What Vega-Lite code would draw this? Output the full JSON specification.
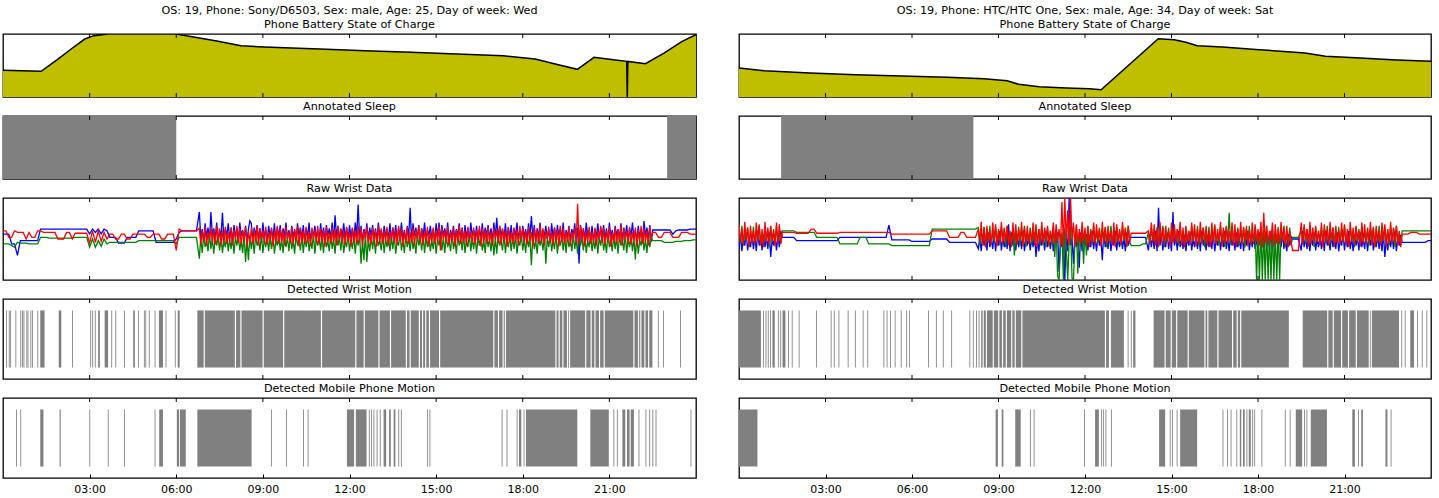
{
"$schema": "https://vega.github.io/schema/vega-lite/v6.json",
"padding": {"left": 2, "top": 3, "right": 1, "bottom": 0},
"background": "white",
"config": {
 "view": {"stroke": "#000", "strokeWidth": 1.3},
 "font": "DejaVu Sans",
 "title": {"font": "DejaVu Sans", "fontSize": 11.2, "fontWeight": "normal", "color": "#000", "offset": 3, "anchor": "middle"},
 "axis": {"domain": false, "grid": false, "tickSize": -4, "tickColor": "#000", "tickWidth": 1, "labelFont": "DejaVu Sans", "labelFontSize": 11, "labelColor": "#000", "labelPadding": 9, "labelFlush": false},
 "rule": {"color": "#000", "strokeWidth": 1}
},
"datasets": {
 "ticks": [{"h":3},{"h":6},{"h":9},{"h":12},{"h":15},{"h":18},{"h":21}],
 "bat_l": [{"h":0,"v":42.3},{"h":1.32,"v":40.7},{"h":1.88,"v":59.3},{"h":2.36,"v":76.2},{"h":2.83,"v":92},{"h":3.15,"v":97.4},{"h":3.63,"v":100},{"h":6.02,"v":100},{"h":6.1,"v":99},{"h":6.65,"v":95},{"h":7.45,"v":88.4},{"h":8.24,"v":81.5},{"h":9.04,"v":79.4},{"h":10.95,"v":76.2},{"h":12.54,"v":73.5},{"h":14.13,"v":70.9},{"h":15.72,"v":68.3},{"h":17.32,"v":65.6},{"h":18.43,"v":60.3},{"h":19.23,"v":51.3},{"h":19.89,"v":43.9},{"h":20.47,"v":63},{"h":21.14,"v":59.3},{"h":21.6,"v":56.6},{"h":21.62,"v":0},{"h":21.64,"v":56.4},{"h":22.25,"v":52.9},{"h":22.89,"v":69.8},{"h":23.52,"v":88.4},{"h":24,"v":99}],
 "bat_r": [{"h":0,"v":46},{"h":0.87,"v":41.8},{"h":2.46,"v":38.1},{"h":4.05,"v":35.4},{"h":5.64,"v":33.3},{"h":7.23,"v":31.2},{"h":8.5,"v":29.1},{"h":9.3,"v":25.9},{"h":9.7,"v":20.1},{"h":10.41,"v":16.4},{"h":11.36,"v":14.3},{"h":12.16,"v":13.2},{"h":12.56,"v":11.6},{"h":14.54,"v":92.6},{"h":15.1,"v":91},{"h":15.5,"v":86.8},{"h":15.89,"v":81.5},{"h":16.77,"v":79.4},{"h":18.04,"v":75.1},{"h":19.63,"v":69.8},{"h":20.34,"v":64.6},{"h":21.54,"v":61.9},{"h":22.81,"v":58.7},{"h":24,"v":56.6}],
 "sleep_l": [{"s":0,"e":6.0},{"s":23.0,"e":24}],
 "sleep_r": [{"s":1.46,"e":8.13}],
 "raw_l": [
{"h":0.0,"ax":56,"ay":44,"az":60},{"h":0.1,"ax":56,"ay":44,"az":60},{"h":0.2,"ax":56,"ay":44,"az":52},{"h":0.3,"ax":44,"ay":42,"az":52},{"h":0.4,"ax":44,"ay":40,"az":60},{"h":0.5,"ax":30,"ay":46,"az":58},{"h":0.6,"ax":48,"ay":45,"az":58},{"h":0.7,"ax":48,"ay":45,"az":58},{"h":0.8,"ax":48,"ay":45,"az":50},{"h":0.9,"ax":48,"ay":44,"az":58},
{"h":1.0,"ax":48,"ay":44,"az":52},{"h":1.1,"ax":48,"ay":44,"az":52},{"h":1.2,"ax":48,"ay":44,"az":60},{"h":1.3,"ax":62,"ay":52,"az":60},{"h":1.4,"ax":62,"ay":52,"az":58},{"h":1.5,"ax":62,"ay":52,"az":58},{"h":1.6,"ax":62,"ay":51,"az":58},{"h":1.7,"ax":62,"ay":51,"az":58},{"h":1.8,"ax":62,"ay":51,"az":58},{"h":1.9,"ax":62,"ay":51,"az":50},
{"h":2.0,"ax":62,"ay":51,"az":50},{"h":2.1,"ax":62,"ay":51,"az":50},{"h":2.2,"ax":62,"ay":51,"az":58},{"h":2.3,"ax":62,"ay":51,"az":58},{"h":2.4,"ax":62,"ay":51,"az":50},{"h":2.5,"ax":62,"ay":52,"az":57},{"h":2.6,"ax":62,"ay":52,"az":57},{"h":2.7,"ax":62,"ay":52,"az":57},{"h":2.8,"ax":62,"ay":52,"az":57},{"h":2.9,"ax":62,"ay":52,"az":57},
{"h":3.0,"ax":56,"ay":40,"az":45},{"h":3.1,"ax":62,"ay":50,"az":60},{"h":3.2,"ax":58,"ay":40,"az":46},{"h":3.3,"ax":62,"ay":48,"az":60},{"h":3.4,"ax":56,"ay":41,"az":47},{"h":3.5,"ax":62,"ay":50,"az":58},{"h":3.6,"ax":60,"ay":44,"az":50},{"h":3.7,"ax":52,"ay":46,"az":56},{"h":3.8,"ax":52,"ay":46,"az":56},{"h":3.9,"ax":52,"ay":46,"az":50},
{"h":4.0,"ax":45,"ay":46,"az":50},{"h":4.1,"ax":45,"ay":46,"az":56},{"h":4.2,"ax":45,"ay":46,"az":56},{"h":4.3,"ax":52,"ay":46,"az":50},{"h":4.4,"ax":52,"ay":46,"az":50},{"h":4.5,"ax":52,"ay":46,"az":56},{"h":4.6,"ax":52,"ay":46,"az":56},{"h":4.7,"ax":60,"ay":48,"az":56},{"h":4.8,"ax":60,"ay":48,"az":56},{"h":4.9,"ax":60,"ay":48,"az":56},
{"h":5.0,"ax":60,"ay":48,"az":52},{"h":5.1,"ax":60,"ay":48,"az":52},{"h":5.2,"ax":60,"ay":48,"az":56},{"h":5.3,"ax":46,"ay":48,"az":56},{"h":5.4,"ax":46,"ay":48,"az":56},{"h":5.5,"ax":46,"ay":48,"az":50},{"h":5.6,"ax":46,"ay":48,"az":50},{"h":5.7,"ax":46,"ay":48,"az":56},{"h":5.8,"ax":46,"ay":48,"az":56},{"h":5.9,"ax":46,"ay":48,"az":56},
{"h":6.0,"ax":50,"ay":44,"az":36},{"h":6.1,"ax":58,"ay":52,"az":62},{"h":6.2,"ax":60,"ay":52,"az":60},{"h":6.3,"ax":60,"ay":52,"az":60},{"h":6.4,"ax":60,"ay":52,"az":60},{"h":6.5,"ax":60,"ay":52,"az":60},{"h":6.6,"ax":60,"ay":52,"az":60},{"h":6.7,"ax":60,"ay":52,"az":60},
{"h":6.8,"ax":83,"ay":26,"az":63},{"h":6.85,"ax":50,"ay":52,"az":44},{"h":6.9,"ax":62,"ay":33,"az":60},{"h":6.95,"ax":47,"ay":55,"az":47},
{"h":7.0,"ax":69,"ay":40,"az":65},{"h":7.05,"ax":52,"ay":48,"az":42},{"h":7.1,"ax":64,"ay":35,"az":58},{"h":7.15,"ax":48,"ay":56,"az":50},{"h":7.2,"ax":83,"ay":38,"az":64},{"h":7.25,"ax":54,"ay":50,"az":45},{"h":7.3,"ax":63,"ay":32,"az":61},{"h":7.35,"ax":50,"ay":54,"az":43},{"h":7.4,"ax":70,"ay":42,"az":66},{"h":7.45,"ax":47,"ay":52,"az":48},
{"h":7.5,"ax":61,"ay":36,"az":63},{"h":7.55,"ax":52,"ay":55,"az":41},{"h":7.6,"ax":82,"ay":33,"az":60},{"h":7.65,"ax":48,"ay":48,"az":46},{"h":7.7,"ax":62,"ay":40,"az":65},{"h":7.75,"ax":54,"ay":56,"az":44},{"h":7.8,"ax":69,"ay":35,"az":58},{"h":7.85,"ax":50,"ay":50,"az":47},{"h":7.9,"ax":64,"ay":38,"az":64},{"h":7.95,"ax":47,"ay":54,"az":42},
{"h":8.0,"ax":67,"ay":32,"az":61},{"h":8.05,"ax":52,"ay":52,"az":50},{"h":8.1,"ax":63,"ay":42,"az":66},{"h":8.15,"ax":48,"ay":55,"az":45},{"h":8.2,"ax":70,"ay":36,"az":63},{"h":8.25,"ax":54,"ay":48,"az":43},{"h":8.3,"ax":61,"ay":33,"az":60},{"h":8.35,"ax":50,"ay":56,"az":48},{"h":8.4,"ax":66,"ay":22,"az":65},{"h":8.45,"ax":47,"ay":50,"az":41},
{"h":8.5,"ax":62,"ay":24,"az":58},{"h":8.55,"ax":72,"ay":54,"az":46},{"h":8.6,"ax":69,"ay":38,"az":64},{"h":8.65,"ax":48,"ay":52,"az":44},{"h":8.7,"ax":64,"ay":32,"az":61},{"h":8.75,"ax":54,"ay":55,"az":47},{"h":8.8,"ax":67,"ay":42,"az":66},{"h":8.85,"ax":50,"ay":48,"az":42},{"h":8.9,"ax":63,"ay":36,"az":63},{"h":8.95,"ax":47,"ay":56,"az":50},
{"h":9.0,"ax":70,"ay":33,"az":60},{"h":9.05,"ax":52,"ay":50,"az":45},{"h":9.1,"ax":61,"ay":40,"az":65},{"h":9.15,"ax":48,"ay":54,"az":43},{"h":9.2,"ax":66,"ay":35,"az":58},{"h":9.25,"ax":54,"ay":52,"az":48},{"h":9.3,"ax":62,"ay":38,"az":64},{"h":9.35,"ax":50,"ay":55,"az":41},{"h":9.4,"ax":69,"ay":32,"az":61},{"h":9.45,"ax":47,"ay":48,"az":46},
{"h":9.5,"ax":64,"ay":42,"az":66},{"h":9.55,"ax":52,"ay":56,"az":44},{"h":9.6,"ax":67,"ay":36,"az":63},{"h":9.65,"ax":48,"ay":50,"az":47},{"h":9.7,"ax":63,"ay":33,"az":60},{"h":9.75,"ax":54,"ay":54,"az":42},{"h":9.8,"ax":70,"ay":40,"az":65},{"h":9.85,"ax":50,"ay":52,"az":50},{"h":9.9,"ax":61,"ay":35,"az":58},{"h":9.95,"ax":47,"ay":55,"az":45},
{"h":10.0,"ax":66,"ay":38,"az":64},{"h":10.05,"ax":52,"ay":48,"az":43},{"h":10.1,"ax":62,"ay":32,"az":61},{"h":10.15,"ax":48,"ay":56,"az":48},{"h":10.2,"ax":69,"ay":42,"az":66},{"h":10.25,"ax":54,"ay":50,"az":41},{"h":10.3,"ax":64,"ay":36,"az":63},{"h":10.35,"ax":50,"ay":54,"az":46},{"h":10.4,"ax":67,"ay":33,"az":60},{"h":10.45,"ax":47,"ay":52,"az":44},
{"h":10.5,"ax":63,"ay":40,"az":65},{"h":10.55,"ax":52,"ay":55,"az":47},{"h":10.6,"ax":70,"ay":35,"az":58},{"h":10.65,"ax":48,"ay":48,"az":42},{"h":10.7,"ax":61,"ay":38,"az":64},{"h":10.75,"ax":54,"ay":56,"az":50},{"h":10.8,"ax":66,"ay":32,"az":61},{"h":10.85,"ax":50,"ay":50,"az":45},{"h":10.9,"ax":62,"ay":42,"az":66},{"h":10.95,"ax":47,"ay":54,"az":43},
{"h":11.0,"ax":69,"ay":36,"az":63},{"h":11.05,"ax":52,"ay":52,"az":48},{"h":11.1,"ax":64,"ay":33,"az":60},{"h":11.15,"ax":48,"ay":55,"az":41},{"h":11.2,"ax":67,"ay":40,"az":65},{"h":11.25,"ax":54,"ay":48,"az":46},{"h":11.3,"ax":63,"ay":35,"az":58},{"h":11.35,"ax":50,"ay":56,"az":44},{"h":11.4,"ax":70,"ay":38,"az":64},{"h":11.45,"ax":47,"ay":50,"az":47},
{"h":11.5,"ax":79,"ay":32,"az":61},{"h":11.55,"ax":52,"ay":54,"az":42},{"h":11.6,"ax":66,"ay":42,"az":66},{"h":11.65,"ax":48,"ay":52,"az":50},{"h":11.7,"ax":62,"ay":36,"az":63},{"h":11.75,"ax":54,"ay":55,"az":45},{"h":11.8,"ax":69,"ay":33,"az":60},{"h":11.85,"ax":50,"ay":48,"az":43},{"h":11.9,"ax":64,"ay":40,"az":65},{"h":11.95,"ax":47,"ay":56,"az":48},
{"h":12.0,"ax":67,"ay":35,"az":58},{"h":12.05,"ax":52,"ay":50,"az":41},{"h":12.1,"ax":63,"ay":38,"az":64},{"h":12.15,"ax":48,"ay":54,"az":46},{"h":12.2,"ax":70,"ay":32,"az":61},{"h":12.25,"ax":54,"ay":52,"az":44},{"h":12.3,"ax":92,"ay":42,"az":66},{"h":12.35,"ax":50,"ay":55,"az":47},{"h":12.4,"ax":66,"ay":20,"az":63},{"h":12.45,"ax":47,"ay":48,"az":42},
{"h":12.5,"ax":62,"ay":24,"az":60},{"h":12.55,"ax":52,"ay":56,"az":50},{"h":12.6,"ax":69,"ay":22,"az":65},{"h":12.65,"ax":48,"ay":50,"az":45},{"h":12.7,"ax":64,"ay":35,"az":58},{"h":12.75,"ax":54,"ay":54,"az":43},{"h":12.8,"ax":67,"ay":38,"az":64},{"h":12.85,"ax":50,"ay":52,"az":48},{"h":12.9,"ax":63,"ay":32,"az":61},{"h":12.95,"ax":47,"ay":55,"az":41},
{"h":13.0,"ax":70,"ay":42,"az":66},{"h":13.05,"ax":52,"ay":48,"az":46},{"h":13.1,"ax":61,"ay":36,"az":63},{"h":13.15,"ax":48,"ay":56,"az":44},{"h":13.2,"ax":66,"ay":33,"az":60},{"h":13.25,"ax":54,"ay":50,"az":47},{"h":13.3,"ax":62,"ay":40,"az":65},{"h":13.35,"ax":50,"ay":54,"az":42},{"h":13.4,"ax":69,"ay":35,"az":58},{"h":13.45,"ax":47,"ay":52,"az":50},
{"h":13.5,"ax":64,"ay":38,"az":64},{"h":13.55,"ax":52,"ay":55,"az":45},{"h":13.6,"ax":67,"ay":32,"az":61},{"h":13.65,"ax":48,"ay":48,"az":43},{"h":13.7,"ax":63,"ay":42,"az":66},{"h":13.75,"ax":54,"ay":56,"az":48},{"h":13.8,"ax":70,"ay":36,"az":63},{"h":13.85,"ax":50,"ay":50,"az":41},{"h":13.9,"ax":61,"ay":33,"az":60},{"h":13.95,"ax":47,"ay":54,"az":46},
{"h":14.0,"ax":66,"ay":40,"az":65},{"h":14.05,"ax":52,"ay":52,"az":44},{"h":14.1,"ax":88,"ay":35,"az":58},{"h":14.15,"ax":48,"ay":55,"az":47},{"h":14.2,"ax":69,"ay":38,"az":64},{"h":14.25,"ax":54,"ay":48,"az":42},{"h":14.3,"ax":64,"ay":32,"az":61},{"h":14.35,"ax":50,"ay":56,"az":50},{"h":14.4,"ax":67,"ay":42,"az":66},{"h":14.45,"ax":47,"ay":50,"az":45},
{"h":14.5,"ax":63,"ay":36,"az":63},{"h":14.55,"ax":52,"ay":54,"az":43},{"h":14.6,"ax":70,"ay":33,"az":60},{"h":14.65,"ax":48,"ay":52,"az":48},{"h":14.7,"ax":61,"ay":40,"az":65},{"h":14.75,"ax":54,"ay":55,"az":41},{"h":14.8,"ax":66,"ay":35,"az":58},{"h":14.85,"ax":50,"ay":48,"az":46},{"h":14.9,"ax":62,"ay":38,"az":64},{"h":14.95,"ax":47,"ay":56,"az":44},
{"h":15.0,"ax":69,"ay":32,"az":61},{"h":15.05,"ax":52,"ay":50,"az":47},{"h":15.1,"ax":70,"ay":42,"az":66},{"h":15.15,"ax":48,"ay":54,"az":36},{"h":15.2,"ax":67,"ay":36,"az":63},{"h":15.25,"ax":54,"ay":52,"az":50},{"h":15.3,"ax":63,"ay":33,"az":60},{"h":15.35,"ax":50,"ay":55,"az":45},{"h":15.4,"ax":70,"ay":40,"az":65},{"h":15.45,"ax":47,"ay":48,"az":43},
{"h":15.5,"ax":61,"ay":35,"az":58},{"h":15.55,"ax":52,"ay":56,"az":48},{"h":15.6,"ax":66,"ay":38,"az":64},{"h":15.65,"ax":48,"ay":50,"az":41},{"h":15.7,"ax":62,"ay":32,"az":61},{"h":15.75,"ax":54,"ay":54,"az":46},{"h":15.8,"ax":69,"ay":42,"az":66},{"h":15.85,"ax":50,"ay":52,"az":44},{"h":15.9,"ax":64,"ay":36,"az":63},{"h":15.95,"ax":47,"ay":55,"az":47},
{"h":16.0,"ax":67,"ay":33,"az":60},{"h":16.05,"ax":52,"ay":48,"az":42},{"h":16.1,"ax":63,"ay":40,"az":65},{"h":16.15,"ax":48,"ay":56,"az":50},{"h":16.2,"ax":70,"ay":35,"az":58},{"h":16.25,"ax":54,"ay":50,"az":45},{"h":16.3,"ax":61,"ay":38,"az":64},{"h":16.35,"ax":50,"ay":54,"az":43},{"h":16.4,"ax":66,"ay":32,"az":61},{"h":16.45,"ax":47,"ay":52,"az":48},
{"h":16.5,"ax":62,"ay":42,"az":66},{"h":16.55,"ax":52,"ay":55,"az":41},{"h":16.6,"ax":69,"ay":36,"az":63},{"h":16.65,"ax":48,"ay":48,"az":46},{"h":16.7,"ax":64,"ay":33,"az":60},{"h":16.75,"ax":54,"ay":56,"az":44},{"h":16.8,"ax":67,"ay":40,"az":65},{"h":16.85,"ax":50,"ay":50,"az":47},{"h":16.9,"ax":63,"ay":35,"az":58},{"h":16.95,"ax":47,"ay":54,"az":42},
{"h":17.0,"ax":70,"ay":30,"az":64},{"h":17.05,"ax":52,"ay":52,"az":50},{"h":17.1,"ax":76,"ay":32,"az":61},{"h":17.15,"ax":48,"ay":55,"az":45},{"h":17.2,"ax":66,"ay":42,"az":66},{"h":17.25,"ax":54,"ay":48,"az":43},{"h":17.3,"ax":62,"ay":36,"az":63},{"h":17.35,"ax":50,"ay":56,"az":48},{"h":17.4,"ax":69,"ay":33,"az":60},{"h":17.45,"ax":47,"ay":50,"az":41},
{"h":17.5,"ax":64,"ay":40,"az":65},{"h":17.55,"ax":52,"ay":54,"az":46},{"h":17.6,"ax":67,"ay":35,"az":58},{"h":17.65,"ax":48,"ay":52,"az":44},{"h":17.7,"ax":63,"ay":38,"az":64},{"h":17.75,"ax":54,"ay":55,"az":47},{"h":17.8,"ax":70,"ay":32,"az":61},{"h":17.85,"ax":50,"ay":48,"az":42},{"h":17.9,"ax":61,"ay":42,"az":66},{"h":17.95,"ax":47,"ay":56,"az":50},
{"h":18.0,"ax":66,"ay":36,"az":63},{"h":18.05,"ax":52,"ay":50,"az":45},{"h":18.1,"ax":62,"ay":33,"az":60},{"h":18.15,"ax":48,"ay":54,"az":43},{"h":18.2,"ax":69,"ay":40,"az":65},{"h":18.25,"ax":54,"ay":52,"az":48},{"h":18.3,"ax":78,"ay":18,"az":58},{"h":18.35,"ax":50,"ay":55,"az":41},{"h":18.4,"ax":67,"ay":38,"az":64},{"h":18.45,"ax":47,"ay":48,"az":46},
{"h":18.5,"ax":63,"ay":32,"az":61},{"h":18.55,"ax":52,"ay":56,"az":44},{"h":18.6,"ax":70,"ay":42,"az":66},{"h":18.65,"ax":48,"ay":50,"az":47},{"h":18.7,"ax":61,"ay":36,"az":63},{"h":18.75,"ax":54,"ay":54,"az":42},{"h":18.8,"ax":66,"ay":20,"az":60},{"h":18.85,"ax":50,"ay":52,"az":50},{"h":18.9,"ax":62,"ay":40,"az":65},{"h":18.95,"ax":47,"ay":55,"az":45},
{"h":19.0,"ax":69,"ay":35,"az":58},{"h":19.05,"ax":52,"ay":48,"az":43},{"h":19.1,"ax":64,"ay":38,"az":64},{"h":19.15,"ax":48,"ay":56,"az":48},{"h":19.2,"ax":67,"ay":32,"az":61},{"h":19.25,"ax":54,"ay":50,"az":41},{"h":19.3,"ax":63,"ay":42,"az":66},{"h":19.35,"ax":50,"ay":54,"az":46},{"h":19.4,"ax":70,"ay":36,"az":63},{"h":19.45,"ax":47,"ay":52,"az":44},
{"h":19.5,"ax":61,"ay":33,"az":60},{"h":19.55,"ax":52,"ay":55,"az":47},{"h":19.6,"ax":66,"ay":40,"az":65},{"h":19.65,"ax":48,"ay":48,"az":42},{"h":19.7,"ax":62,"ay":35,"az":58},{"h":19.75,"ax":54,"ay":56,"az":50},{"h":19.8,"ax":69,"ay":38,"az":64},{"h":19.85,"ax":50,"ay":50,"az":45},{"h":19.9,"ax":64,"ay":32,"az":93},{"h":19.95,"ax":20,"ay":54,"az":43},
{"h":20.0,"ax":67,"ay":42,"az":66},{"h":20.05,"ax":52,"ay":52,"az":48},{"h":20.1,"ax":63,"ay":36,"az":63},{"h":20.15,"ax":48,"ay":55,"az":41},{"h":20.2,"ax":70,"ay":33,"az":60},{"h":20.25,"ax":54,"ay":48,"az":46},{"h":20.3,"ax":61,"ay":40,"az":65},{"h":20.35,"ax":50,"ay":56,"az":44},{"h":20.4,"ax":66,"ay":35,"az":58},{"h":20.45,"ax":47,"ay":50,"az":47},
{"h":20.5,"ax":62,"ay":38,"az":64},{"h":20.55,"ax":52,"ay":54,"az":42},{"h":20.6,"ax":69,"ay":32,"az":61},{"h":20.65,"ax":48,"ay":52,"az":50},{"h":20.7,"ax":64,"ay":42,"az":66},{"h":20.75,"ax":54,"ay":55,"az":45},{"h":20.8,"ax":67,"ay":36,"az":63},{"h":20.85,"ax":50,"ay":48,"az":43},{"h":20.9,"ax":63,"ay":33,"az":60},{"h":20.95,"ax":47,"ay":56,"az":48},
{"h":21.0,"ax":70,"ay":40,"az":65},{"h":21.05,"ax":52,"ay":50,"az":41},{"h":21.1,"ax":61,"ay":35,"az":58},{"h":21.15,"ax":48,"ay":54,"az":46},{"h":21.2,"ax":66,"ay":38,"az":64},{"h":21.25,"ax":54,"ay":52,"az":44},{"h":21.3,"ax":62,"ay":32,"az":61},{"h":21.35,"ax":50,"ay":55,"az":47},{"h":21.4,"ax":69,"ay":42,"az":66},{"h":21.45,"ax":47,"ay":48,"az":42},
{"h":21.5,"ax":64,"ay":36,"az":63},{"h":21.55,"ax":52,"ay":56,"az":50},{"h":21.6,"ax":67,"ay":33,"az":60},{"h":21.65,"ax":48,"ay":50,"az":45},{"h":21.7,"ax":63,"ay":40,"az":65},{"h":21.75,"ax":54,"ay":54,"az":43},{"h":21.8,"ax":70,"ay":35,"az":58},{"h":21.85,"ax":50,"ay":52,"az":48},{"h":21.9,"ax":61,"ay":25,"az":64},{"h":21.95,"ax":47,"ay":55,"az":41},
{"h":22.0,"ax":66,"ay":32,"az":61},{"h":22.05,"ax":52,"ay":48,"az":46},{"h":22.1,"ax":62,"ay":42,"az":66},{"h":22.15,"ax":48,"ay":56,"az":44},{"h":22.2,"ax":72,"ay":36,"az":63},{"h":22.25,"ax":54,"ay":50,"az":47},{"h":22.3,"ax":64,"ay":33,"az":60},{"h":22.35,"ax":50,"ay":54,"az":42},{"h":22.4,"ax":67,"ay":40,"az":65},{"h":22.45,"ax":47,"ay":52,"az":50},
{"h":22.5,"ax":61,"ay":48,"az":58},{"h":22.6,"ax":61,"ay":48,"az":58},{"h":22.7,"ax":61,"ay":48,"az":52},{"h":22.8,"ax":61,"ay":48,"az":52},{"h":22.9,"ax":61,"ay":46,"az":58},
{"h":23.0,"ax":61,"ay":46,"az":58},{"h":23.1,"ax":61,"ay":46,"az":58},{"h":23.2,"ax":56,"ay":46,"az":52},{"h":23.3,"ax":60,"ay":47,"az":52},{"h":23.4,"ax":61,"ay":47,"az":52},{"h":23.5,"ax":61,"ay":47,"az":58},{"h":23.6,"ax":61,"ay":48,"az":58},{"h":23.7,"ax":61,"ay":48,"az":58},{"h":23.8,"ax":62,"ay":48,"az":56},{"h":23.9,"ax":62,"ay":49,"az":56},
{"h":24.0,"ax":62,"ay":49,"az":56}
 ],
 "raw_r": [
{"h":0.0,"ax":38,"ay":62,"az":68},{"h":0.05,"ax":55,"ay":45,"az":46},{"h":0.1,"ax":35,"ay":66,"az":62},{"h":0.15,"ax":52,"ay":42,"az":43},{"h":0.2,"ax":42,"ay":58,"az":71},{"h":0.25,"ax":58,"ay":48,"az":48},{"h":0.3,"ax":36,"ay":64,"az":64},{"h":0.35,"ax":50,"ay":40,"az":41},{"h":0.4,"ax":40,"ay":60,"az":66},{"h":0.45,"ax":56,"ay":46,"az":45},
{"h":0.5,"ax":38,"ay":65,"az":60},{"h":0.55,"ax":53,"ay":43,"az":44},{"h":0.6,"ax":35,"ay":62,"az":70},{"h":0.65,"ax":60,"ay":47,"az":47},{"h":0.7,"ax":42,"ay":66,"az":68},{"h":0.75,"ax":51,"ay":45,"az":42},{"h":0.8,"ax":36,"ay":58,"az":62},{"h":0.85,"ax":55,"ay":42,"az":40},{"h":0.9,"ax":40,"ay":64,"az":71},{"h":0.95,"ax":52,"ay":48,"az":46},
{"h":1.0,"ax":38,"ay":60,"az":64},{"h":1.05,"ax":58,"ay":40,"az":43},{"h":1.1,"ax":28,"ay":65,"az":66},{"h":1.15,"ax":50,"ay":46,"az":48},{"h":1.2,"ax":42,"ay":62,"az":60},{"h":1.25,"ax":56,"ay":43,"az":41},{"h":1.3,"ax":36,"ay":66,"az":70},{"h":1.35,"ax":53,"ay":47,"az":45},{"h":1.4,"ax":40,"ay":58,"az":68},{"h":1.45,"ax":60,"ay":45,"az":44},
{"h":1.5,"ax":52,"ay":60,"az":58},{"h":1.6,"ax":52,"ay":60,"az":58},{"h":1.7,"ax":52,"ay":60,"az":58},{"h":1.8,"ax":52,"ay":60,"az":58},{"h":1.9,"ax":52,"ay":60,"az":58},
{"h":2.0,"ax":48,"ay":58,"az":57},{"h":2.1,"ax":48,"ay":58,"az":57},{"h":2.2,"ax":48,"ay":58,"az":57},{"h":2.3,"ax":48,"ay":58,"az":57},{"h":2.4,"ax":48,"ay":58,"az":57},{"h":2.5,"ax":48,"ay":58,"az":62},{"h":2.6,"ax":48,"ay":58,"az":62},{"h":2.7,"ax":48,"ay":52,"az":57},{"h":2.8,"ax":48,"ay":52,"az":57},{"h":2.9,"ax":48,"ay":52,"az":57},
{"h":3.0,"ax":48,"ay":52,"az":57},{"h":3.1,"ax":48,"ay":52,"az":57},{"h":3.2,"ax":48,"ay":52,"az":57},{"h":3.3,"ax":48,"ay":52,"az":57},{"h":3.4,"ax":48,"ay":52,"az":57},{"h":3.5,"ax":52,"ay":44,"az":58},{"h":3.6,"ax":52,"ay":44,"az":58},{"h":3.7,"ax":52,"ay":44,"az":58},{"h":3.8,"ax":52,"ay":44,"az":58},{"h":3.9,"ax":52,"ay":44,"az":58},
{"h":4.0,"ax":52,"ay":44,"az":58},{"h":4.1,"ax":52,"ay":44,"az":58},{"h":4.2,"ax":52,"ay":52,"az":58},{"h":4.3,"ax":52,"ay":52,"az":58},{"h":4.4,"ax":52,"ay":52,"az":58},{"h":4.5,"ax":52,"ay":44,"az":58},{"h":4.6,"ax":52,"ay":44,"az":58},{"h":4.7,"ax":52,"ay":44,"az":58},{"h":4.8,"ax":52,"ay":44,"az":58},{"h":4.9,"ax":52,"ay":44,"az":58},
{"h":5.0,"ax":52,"ay":44,"az":58},{"h":5.1,"ax":52,"ay":44,"az":58},{"h":5.2,"ax":67,"ay":44,"az":58},{"h":5.3,"ax":49,"ay":42,"az":56},{"h":5.4,"ax":49,"ay":42,"az":56},{"h":5.5,"ax":49,"ay":42,"az":56},{"h":5.6,"ax":49,"ay":42,"az":56},{"h":5.7,"ax":49,"ay":42,"az":56},{"h":5.8,"ax":49,"ay":42,"az":56},{"h":5.9,"ax":49,"ay":42,"az":56},
{"h":6.0,"ax":47,"ay":42,"az":56},{"h":6.1,"ax":47,"ay":42,"az":56},{"h":6.2,"ax":47,"ay":42,"az":56},{"h":6.3,"ax":47,"ay":42,"az":56},{"h":6.4,"ax":47,"ay":42,"az":56},{"h":6.5,"ax":47,"ay":42,"az":56},{"h":6.6,"ax":47,"ay":42,"az":56},{"h":6.7,"ax":50,"ay":62,"az":60},{"h":6.8,"ax":50,"ay":62,"az":60},{"h":6.9,"ax":50,"ay":62,"az":60},
{"h":7.0,"ax":50,"ay":62,"az":60},{"h":7.1,"ax":50,"ay":62,"az":60},{"h":7.2,"ax":50,"ay":62,"az":60},{"h":7.3,"ax":46,"ay":62,"az":52},{"h":7.4,"ax":46,"ay":62,"az":52},{"h":7.5,"ax":46,"ay":62,"az":52},{"h":7.6,"ax":46,"ay":62,"az":52},{"h":7.7,"ax":46,"ay":62,"az":58},{"h":7.8,"ax":46,"ay":62,"az":58},{"h":7.9,"ax":46,"ay":62,"az":52},
{"h":8.0,"ax":46,"ay":62,"az":52},{"h":8.1,"ax":46,"ay":62,"az":52},{"h":8.2,"ax":46,"ay":62,"az":52},
{"h":8.3,"ax":38,"ay":64,"az":62},{"h":8.35,"ax":51,"ay":42,"az":47},{"h":8.4,"ax":35,"ay":60,"az":71},{"h":8.45,"ax":55,"ay":48,"az":42},{"h":8.5,"ax":42,"ay":65,"az":64},{"h":8.55,"ax":52,"ay":40,"az":40},{"h":8.6,"ax":36,"ay":62,"az":66},{"h":8.65,"ax":58,"ay":46,"az":46},{"h":8.7,"ax":40,"ay":66,"az":60},{"h":8.75,"ax":50,"ay":43,"az":43},
{"h":8.8,"ax":38,"ay":58,"az":70},{"h":8.85,"ax":56,"ay":47,"az":48},{"h":8.9,"ax":35,"ay":64,"az":68},{"h":8.95,"ax":53,"ay":45,"az":41},{"h":9.0,"ax":42,"ay":60,"az":62},{"h":9.05,"ax":60,"ay":42,"az":45},{"h":9.1,"ax":36,"ay":65,"az":71},{"h":9.15,"ax":51,"ay":48,"az":44},{"h":9.2,"ax":40,"ay":62,"az":64},{"h":9.25,"ax":55,"ay":40,"az":47},
{"h":9.3,"ax":38,"ay":66,"az":66},{"h":9.35,"ax":68,"ay":46,"az":42},{"h":9.4,"ax":35,"ay":58,"az":60},{"h":9.45,"ax":58,"ay":43,"az":40},{"h":9.5,"ax":42,"ay":64,"az":70},{"h":9.55,"ax":50,"ay":30,"az":46},{"h":9.6,"ax":36,"ay":60,"az":68},{"h":9.65,"ax":56,"ay":45,"az":43},{"h":9.7,"ax":40,"ay":65,"az":62},{"h":9.75,"ax":53,"ay":42,"az":48},
{"h":9.8,"ax":38,"ay":62,"az":71},{"h":9.85,"ax":60,"ay":48,"az":41},{"h":9.9,"ax":35,"ay":66,"az":64},{"h":9.95,"ax":51,"ay":40,"az":45},{"h":10.0,"ax":42,"ay":58,"az":66},{"h":10.05,"ax":55,"ay":46,"az":44},{"h":10.1,"ax":36,"ay":64,"az":60},{"h":10.15,"ax":52,"ay":43,"az":47},{"h":10.2,"ax":40,"ay":60,"az":70},{"h":10.25,"ax":58,"ay":47,"az":42},
{"h":10.3,"ax":28,"ay":65,"az":68},{"h":10.35,"ax":50,"ay":45,"az":40},{"h":10.4,"ax":35,"ay":62,"az":62},{"h":10.45,"ax":56,"ay":42,"az":46},{"h":10.5,"ax":42,"ay":66,"az":71},{"h":10.55,"ax":53,"ay":48,"az":43},{"h":10.6,"ax":36,"ay":58,"az":64},{"h":10.65,"ax":60,"ay":40,"az":48},{"h":10.7,"ax":40,"ay":64,"az":66},{"h":10.75,"ax":51,"ay":46,"az":41},
{"h":10.8,"ax":38,"ay":60,"az":60},{"h":10.85,"ax":55,"ay":43,"az":45},{"h":10.9,"ax":35,"ay":65,"az":70},{"h":10.95,"ax":52,"ay":28,"az":44},{"h":11.0,"ax":42,"ay":62,"az":68},{"h":11.05,"ax":58,"ay":5,"az":47},{"h":11.1,"ax":10,"ay":0,"az":62},{"h":11.15,"ax":50,"ay":42,"az":42},{"h":11.2,"ax":40,"ay":58,"az":95},{"h":11.25,"ax":56,"ay":0,"az":40},
{"h":11.3,"ax":0,"ay":64,"az":100},{"h":11.35,"ax":53,"ay":40,"az":46},{"h":11.4,"ax":35,"ay":0,"az":85},{"h":11.45,"ax":100,"ay":46,"az":43},{"h":11.5,"ax":42,"ay":65,"az":100},{"h":11.55,"ax":51,"ay":2,"az":48},{"h":11.6,"ax":20,"ay":0,"az":70},{"h":11.65,"ax":55,"ay":47,"az":41},{"h":11.7,"ax":40,"ay":66,"az":68},{"h":11.75,"ax":52,"ay":8,"az":45},
{"h":11.8,"ax":15,"ay":58,"az":62},{"h":11.85,"ax":58,"ay":42,"az":44},{"h":11.9,"ax":35,"ay":64,"az":71},{"h":11.95,"ax":50,"ay":20,"az":47},{"h":12.0,"ax":42,"ay":60,"az":64},{"h":12.05,"ax":56,"ay":30,"az":42},{"h":12.1,"ax":36,"ay":65,"az":66},{"h":12.15,"ax":53,"ay":46,"az":40},{"h":12.2,"ax":40,"ay":62,"az":60},{"h":12.25,"ax":60,"ay":43,"az":46},
{"h":12.3,"ax":38,"ay":66,"az":70},{"h":12.35,"ax":51,"ay":47,"az":43},{"h":12.4,"ax":35,"ay":58,"az":68},{"h":12.45,"ax":55,"ay":45,"az":48},{"h":12.5,"ax":42,"ay":64,"az":62},{"h":12.55,"ax":52,"ay":42,"az":41},{"h":12.6,"ax":24,"ay":60,"az":71},{"h":12.65,"ax":58,"ay":48,"az":45},{"h":12.7,"ax":40,"ay":65,"az":64},{"h":12.75,"ax":50,"ay":40,"az":44},
{"h":12.8,"ax":38,"ay":62,"az":66},{"h":12.85,"ax":56,"ay":46,"az":47},{"h":12.9,"ax":35,"ay":66,"az":60},{"h":12.95,"ax":53,"ay":43,"az":42},{"h":13.0,"ax":42,"ay":58,"az":70},{"h":13.05,"ax":60,"ay":47,"az":40},{"h":13.1,"ax":36,"ay":64,"az":68},{"h":13.15,"ax":51,"ay":45,"az":46},{"h":13.2,"ax":40,"ay":60,"az":62},{"h":13.25,"ax":55,"ay":42,"az":43},
{"h":13.3,"ax":38,"ay":65,"az":71},{"h":13.35,"ax":52,"ay":48,"az":48},{"h":13.4,"ax":35,"ay":62,"az":64},{"h":13.45,"ax":58,"ay":40,"az":41},{"h":13.5,"ax":42,"ay":66,"az":66},{"h":13.55,"ax":50,"ay":46,"az":45},
{"h":13.6,"ax":52,"ay":42,"az":57},{"h":13.7,"ax":52,"ay":42,"az":57},{"h":13.8,"ax":52,"ay":42,"az":57},{"h":13.9,"ax":52,"ay":42,"az":57},{"h":14.0,"ax":52,"ay":44,"az":57},{"h":14.1,"ax":52,"ay":44,"az":57},
{"h":14.2,"ax":36,"ay":58,"az":60},{"h":14.25,"ax":56,"ay":43,"az":44},{"h":14.3,"ax":40,"ay":64,"az":70},{"h":14.35,"ax":53,"ay":47,"az":47},{"h":14.4,"ax":38,"ay":60,"az":68},{"h":14.45,"ax":60,"ay":45,"az":42},{"h":14.5,"ax":35,"ay":65,"az":62},{"h":14.55,"ax":88,"ay":42,"az":40},{"h":14.6,"ax":42,"ay":62,"az":71},{"h":14.65,"ax":55,"ay":48,"az":46},
{"h":14.7,"ax":36,"ay":66,"az":64},{"h":14.75,"ax":52,"ay":40,"az":43},{"h":14.8,"ax":40,"ay":58,"az":66},{"h":14.85,"ax":58,"ay":46,"az":48},{"h":14.9,"ax":38,"ay":64,"az":60},{"h":14.95,"ax":50,"ay":43,"az":41},{"h":15.0,"ax":35,"ay":60,"az":70},{"h":15.05,"ax":83,"ay":47,"az":45},{"h":15.1,"ax":42,"ay":65,"az":68},{"h":15.15,"ax":53,"ay":45,"az":44},
{"h":15.2,"ax":36,"ay":62,"az":62},{"h":15.25,"ax":60,"ay":42,"az":47},{"h":15.3,"ax":40,"ay":66,"az":71},{"h":15.35,"ax":51,"ay":48,"az":42},{"h":15.4,"ax":38,"ay":58,"az":64},{"h":15.45,"ax":55,"ay":40,"az":40},{"h":15.5,"ax":35,"ay":64,"az":66},{"h":15.55,"ax":52,"ay":46,"az":46},{"h":15.6,"ax":42,"ay":60,"az":60},{"h":15.65,"ax":58,"ay":43,"az":43},
{"h":15.7,"ax":36,"ay":65,"az":70},{"h":15.75,"ax":50,"ay":47,"az":48},{"h":15.8,"ax":40,"ay":62,"az":68},{"h":15.85,"ax":56,"ay":45,"az":41},{"h":15.9,"ax":38,"ay":66,"az":62},{"h":15.95,"ax":53,"ay":42,"az":45},{"h":16.0,"ax":35,"ay":58,"az":71},{"h":16.05,"ax":60,"ay":48,"az":44},{"h":16.1,"ax":42,"ay":64,"az":64},{"h":16.15,"ax":51,"ay":40,"az":47},
{"h":16.2,"ax":36,"ay":60,"az":66},{"h":16.25,"ax":55,"ay":46,"az":42},{"h":16.3,"ax":40,"ay":65,"az":60},{"h":16.35,"ax":52,"ay":43,"az":40},{"h":16.4,"ax":38,"ay":62,"az":70},{"h":16.45,"ax":58,"ay":47,"az":46},{"h":16.5,"ax":35,"ay":66,"az":68},{"h":16.55,"ax":50,"ay":45,"az":43},{"h":16.6,"ax":42,"ay":58,"az":62},{"h":16.65,"ax":56,"ay":42,"az":48},
{"h":16.7,"ax":36,"ay":64,"az":71},{"h":16.75,"ax":53,"ay":48,"az":41},{"h":16.8,"ax":40,"ay":60,"az":64},{"h":16.85,"ax":60,"ay":40,"az":45},{"h":16.9,"ax":38,"ay":65,"az":66},{"h":16.95,"ax":51,"ay":46,"az":44},{"h":17.0,"ax":35,"ay":82,"az":60},{"h":17.05,"ax":55,"ay":43,"az":47},{"h":17.1,"ax":42,"ay":66,"az":70},{"h":17.15,"ax":52,"ay":47,"az":42},
{"h":17.2,"ax":36,"ay":58,"az":68},{"h":17.25,"ax":58,"ay":45,"az":40},{"h":17.3,"ax":40,"ay":64,"az":62},{"h":17.35,"ax":50,"ay":42,"az":46},{"h":17.4,"ax":38,"ay":60,"az":71},{"h":17.45,"ax":56,"ay":48,"az":43},{"h":17.5,"ax":35,"ay":65,"az":64},{"h":17.55,"ax":53,"ay":40,"az":48},{"h":17.6,"ax":42,"ay":62,"az":66},{"h":17.65,"ax":60,"ay":46,"az":41},
{"h":17.7,"ax":36,"ay":66,"az":60},{"h":17.75,"ax":51,"ay":43,"az":45},{"h":17.8,"ax":40,"ay":58,"az":70},{"h":17.85,"ax":55,"ay":47,"az":44},{"h":17.9,"ax":38,"ay":64,"az":68},{"h":17.95,"ax":52,"ay":0,"az":47},{"h":18.0,"ax":35,"ay":60,"az":62},{"h":18.05,"ax":58,"ay":0,"az":42},{"h":18.1,"ax":42,"ay":65,"az":71},{"h":18.15,"ax":50,"ay":0,"az":40},
{"h":18.2,"ax":36,"ay":62,"az":82},{"h":18.25,"ax":56,"ay":0,"az":46},{"h":18.3,"ax":40,"ay":66,"az":66},{"h":18.35,"ax":53,"ay":0,"az":43},{"h":18.4,"ax":38,"ay":58,"az":60},{"h":18.45,"ax":60,"ay":0,"az":48},{"h":18.5,"ax":35,"ay":64,"az":70},{"h":18.55,"ax":51,"ay":0,"az":41},{"h":18.6,"ax":42,"ay":60,"az":68},{"h":18.65,"ax":55,"ay":0,"az":45},
{"h":18.7,"ax":36,"ay":65,"az":62},{"h":18.75,"ax":52,"ay":0,"az":44},{"h":18.8,"ax":40,"ay":62,"az":71},{"h":18.85,"ax":58,"ay":48,"az":47},{"h":18.9,"ax":38,"ay":66,"az":64},{"h":18.95,"ax":50,"ay":40,"az":42},{"h":19.0,"ax":35,"ay":58,"az":66},{"h":19.05,"ax":56,"ay":46,"az":40},{"h":19.1,"ax":42,"ay":64,"az":60},{"h":19.15,"ax":53,"ay":43,"az":46},
{"h":19.2,"ax":50,"ay":52,"az":36},{"h":19.3,"ax":50,"ay":52,"az":36},{"h":19.4,"ax":50,"ay":52,"az":36},
{"h":19.5,"ax":36,"ay":60,"az":70},{"h":19.55,"ax":60,"ay":47,"az":43},{"h":19.6,"ax":40,"ay":65,"az":68},{"h":19.65,"ax":51,"ay":45,"az":48},{"h":19.7,"ax":38,"ay":62,"az":62},{"h":19.75,"ax":55,"ay":42,"az":41},{"h":19.8,"ax":35,"ay":66,"az":71},{"h":19.85,"ax":52,"ay":48,"az":45},{"h":19.9,"ax":42,"ay":58,"az":64},{"h":19.95,"ax":58,"ay":40,"az":44},
{"h":20.0,"ax":36,"ay":64,"az":66},{"h":20.05,"ax":50,"ay":46,"az":47},{"h":20.1,"ax":40,"ay":60,"az":60},{"h":20.15,"ax":56,"ay":43,"az":42},{"h":20.2,"ax":38,"ay":65,"az":70},{"h":20.25,"ax":53,"ay":47,"az":40},{"h":20.3,"ax":35,"ay":62,"az":68},{"h":20.35,"ax":60,"ay":45,"az":46},{"h":20.4,"ax":42,"ay":66,"az":62},{"h":20.45,"ax":51,"ay":42,"az":43},
{"h":20.5,"ax":36,"ay":58,"az":71},{"h":20.55,"ax":55,"ay":48,"az":48},{"h":20.6,"ax":40,"ay":64,"az":64},{"h":20.65,"ax":52,"ay":40,"az":41},{"h":20.7,"ax":38,"ay":60,"az":66},{"h":20.75,"ax":58,"ay":46,"az":45},{"h":20.8,"ax":35,"ay":65,"az":60},{"h":20.85,"ax":50,"ay":43,"az":44},{"h":20.9,"ax":42,"ay":62,"az":70},{"h":20.95,"ax":56,"ay":47,"az":47},
{"h":21.0,"ax":36,"ay":66,"az":68},{"h":21.05,"ax":53,"ay":45,"az":42},{"h":21.1,"ax":40,"ay":58,"az":62},{"h":21.15,"ax":60,"ay":42,"az":40},{"h":21.2,"ax":38,"ay":64,"az":71},{"h":21.25,"ax":51,"ay":48,"az":46},{"h":21.3,"ax":35,"ay":60,"az":64},{"h":21.35,"ax":55,"ay":40,"az":43},{"h":21.4,"ax":42,"ay":65,"az":66},{"h":21.45,"ax":52,"ay":46,"az":48},
{"h":21.5,"ax":36,"ay":62,"az":60},{"h":21.55,"ax":58,"ay":43,"az":41},{"h":21.6,"ax":40,"ay":66,"az":70},{"h":21.65,"ax":50,"ay":47,"az":45},{"h":21.7,"ax":38,"ay":58,"az":68},{"h":21.75,"ax":56,"ay":45,"az":44},{"h":21.8,"ax":35,"ay":64,"az":62},{"h":21.85,"ax":53,"ay":42,"az":47},{"h":21.9,"ax":42,"ay":60,"az":71},{"h":21.95,"ax":60,"ay":48,"az":42},
{"h":22.0,"ax":36,"ay":65,"az":64},{"h":22.05,"ax":51,"ay":40,"az":40},{"h":22.1,"ax":40,"ay":62,"az":66},{"h":22.15,"ax":55,"ay":46,"az":46},{"h":22.2,"ax":38,"ay":66,"az":60},{"h":22.25,"ax":52,"ay":43,"az":43},{"h":22.3,"ax":35,"ay":58,"az":70},{"h":22.35,"ax":58,"ay":47,"az":48},{"h":22.4,"ax":28,"ay":64,"az":68},{"h":22.45,"ax":50,"ay":45,"az":41},
{"h":22.5,"ax":36,"ay":60,"az":62},{"h":22.55,"ax":56,"ay":42,"az":45},{"h":22.6,"ax":40,"ay":65,"az":71},{"h":22.65,"ax":53,"ay":48,"az":44},{"h":22.7,"ax":38,"ay":62,"az":64},{"h":22.75,"ax":60,"ay":40,"az":47},{"h":22.8,"ax":35,"ay":66,"az":66},{"h":22.85,"ax":51,"ay":46,"az":42},{"h":22.9,"ax":42,"ay":58,"az":60},{"h":22.95,"ax":55,"ay":43,"az":40},
{"h":23.0,"ax":46,"ay":60,"az":56},{"h":23.1,"ax":46,"ay":60,"az":56},{"h":23.2,"ax":46,"ay":60,"az":56},{"h":23.3,"ax":46,"ay":60,"az":58},{"h":23.4,"ax":46,"ay":60,"az":58},{"h":23.5,"ax":46,"ay":60,"az":58},{"h":23.6,"ax":46,"ay":60,"az":56},{"h":23.7,"ax":46,"ay":60,"az":56},{"h":23.8,"ax":46,"ay":60,"az":56},{"h":23.9,"ax":48,"ay":60,"az":56},
{"h":24.0,"ax":48,"ay":60,"az":56}
 ],
 "wrist_l": [{"s":0.11,"e":0.14},{"s":0.2,"e":0.23},{"s":0.25,"e":0.28},{"s":0.43,"e":0.46},{"s":0.6,"e":0.63},{"s":0.66,"e":0.69},{"s":0.71,"e":0.74},{"s":0.81,"e":0.84},{"s":0.85,"e":0.88},{"s":0.95,"e":0.98},{"s":1.01,"e":1.04},{"s":1.19,"e":1.22},{"s":1.29,"e":1.44},{"s":1.93,"e":2.02},{"s":2.39,"e":2.42},{"s":3.02,"e":3.05},{"s":3.09,"e":3.12},{"s":3.18,"e":3.21},{"s":3.29,"e":3.32},{"s":3.33,"e":3.36},{"s":3.52,"e":3.64},{"s":3.75,"e":3.78},{"s":3.89,"e":3.92},{"s":4.19,"e":4.22},{"s":4.5,"e":4.53},{"s":4.54,"e":4.57},{"s":4.68,"e":4.71},{"s":4.88,"e":4.91},{"s":4.93,"e":4.96},{"s":5.05,"e":5.08},{"s":5.25,"e":5.28},{"s":5.4,"e":5.54},{"s":5.63,"e":5.66},{"s":5.95,"e":5.98},{"s":6.05,"e":6.12},{"s":6.73,"e":6.95},{"s":6.99,"e":8.03},{"s":8.07,"e":8.22},{"s":8.26,"e":8.99},{"s":9.03,"e":9.7},{"s":9.74,"e":11.01},{"s":11.05,"e":12.2},{"s":12.24,"e":12.49},{"s":12.53,"e":13.0},{"s":13.04,"e":13.4},{"s":13.44,"e":13.95},{"s":13.99,"e":14.08},{"s":14.12,"e":14.4},{"s":14.44,"e":14.51},{"s":14.55,"e":14.62},{"s":14.66,"e":14.75},{"s":14.79,"e":15.1},{"s":15.14,"e":16.98},{"s":17.02,"e":17.14},{"s":17.18,"e":17.3},{"s":17.34,"e":17.38},{"s":17.42,"e":19.13},{"s":19.17,"e":19.24},{"s":19.28,"e":19.37},{"s":19.41,"e":19.53},{"s":19.57,"e":19.6},{"s":19.64,"e":20.16},{"s":20.2,"e":20.35},{"s":20.39,"e":20.48},{"s":20.52,"e":20.64},{"s":20.68,"e":20.8},{"s":20.84,"e":21.83},{"s":21.87,"e":21.99},{"s":22.03,"e":22.07},{"s":22.11,"e":22.21},{"s":22.25,"e":22.34},{"s":22.38,"e":22.49},{"s":22.68,"e":22.71},{"s":22.86,"e":22.89},{"s":23.45,"e":23.48}],
 "wrist_r": [{"s":0,"e":0.76},{"s":0.83,"e":0.86},{"s":0.92,"e":0.95},{"s":1.0,"e":1.03},{"s":1.08,"e":1.11},{"s":1.16,"e":1.24},{"s":1.35,"e":1.38},{"s":1.43,"e":1.46},{"s":1.51,"e":1.61},{"s":1.7,"e":1.73},{"s":1.83,"e":1.86},{"s":2.07,"e":2.1},{"s":2.67,"e":2.7},{"s":3.18,"e":3.21},{"s":3.29,"e":3.32},{"s":3.45,"e":3.48},{"s":3.77,"e":3.8},{"s":4.02,"e":4.05},{"s":4.29,"e":4.32},{"s":4.45,"e":4.48},{"s":5.01,"e":5.04},{"s":5.12,"e":5.15},{"s":5.24,"e":5.27},{"s":5.4,"e":5.43},{"s":5.61,"e":5.64},{"s":5.8,"e":5.83},{"s":5.9,"e":5.93},{"s":6.56,"e":6.59},{"s":6.83,"e":6.86},{"s":7.07,"e":7.1},{"s":7.36,"e":7.39},{"s":7.99,"e":8.02},{"s":8.11,"e":8.14},{"s":8.22,"e":8.25},{"s":8.31,"e":8.34},{"s":8.4,"e":8.45},{"s":8.49,"e":8.56},{"s":8.6,"e":8.8},{"s":8.84,"e":8.99},{"s":9.03,"e":9.12},{"s":9.16,"e":9.25},{"s":9.29,"e":9.44},{"s":9.48,"e":9.56},{"s":9.6,"e":9.79},{"s":9.83,"e":12.69},{"s":12.73,"e":12.83},{"s":12.9,"e":13.35},{"s":13.48,"e":13.51},{"s":13.59,"e":13.62},{"s":13.67,"e":13.75},{"s":14.38,"e":14.76},{"s":14.8,"e":14.97},{"s":15.01,"e":15.16},{"s":15.2,"e":15.56},{"s":15.6,"e":16.14},{"s":16.18,"e":16.24},{"s":16.28,"e":16.59},{"s":16.63,"e":17.1},{"s":17.14,"e":17.26},{"s":17.3,"e":17.38},{"s":17.42,"e":19.07},{"s":19.55,"e":20.4},{"s":20.44,"e":20.59},{"s":20.63,"e":20.88},{"s":20.92,"e":21.12},{"s":21.16,"e":21.39},{"s":21.43,"e":21.84},{"s":21.88,"e":21.91},{"s":21.95,"e":22.89},{"s":22.97,"e":23.0},{"s":23.09,"e":23.12},{"s":23.28,"e":23.41},{"s":23.52,"e":23.55},{"s":23.68,"e":23.71},{"s":23.84,"e":23.87}],
 "phone_l": [{"s":0.45,"e":0.48},{"s":0.6,"e":0.63},{"s":1.29,"e":1.4},{"s":1.96,"e":2.0},{"s":2.99,"e":3.02},{"s":3.63,"e":3.66},{"s":4.19,"e":4.22},{"s":5.25,"e":5.28},{"s":5.41,"e":5.54},{"s":6.02,"e":6.1},{"s":6.13,"e":6.33},{"s":6.73,"e":8.61},{"s":9.28,"e":9.31},{"s":9.8,"e":9.83},{"s":10.39,"e":10.42},{"s":10.55,"e":10.58},{"s":11.91,"e":12.16},{"s":12.22,"e":12.59},{"s":12.67,"e":12.7},{"s":12.75,"e":12.78},{"s":12.83,"e":12.86},{"s":12.94,"e":12.97},{"s":13.05,"e":13.08},{"s":13.18,"e":13.27},{"s":13.37,"e":13.43},{"s":13.53,"e":13.59},{"s":13.69,"e":13.72},{"s":13.78,"e":13.81},{"s":14.69,"e":14.72},{"s":14.77,"e":14.8},{"s":17.27,"e":17.3},{"s":17.44,"e":17.47},{"s":17.79,"e":17.82},{"s":17.87,"e":17.95},{"s":18.03,"e":18.06},{"s":18.11,"e":19.89},{"s":20.34,"e":20.98},{"s":21.14,"e":21.17},{"s":21.26,"e":21.29},{"s":21.45,"e":21.55},{"s":21.61,"e":21.7},{"s":21.74,"e":21.85},{"s":22.01,"e":22.04},{"s":22.25,"e":22.28},{"s":22.38,"e":22.41},{"s":22.49,"e":22.52},{"s":22.6,"e":22.63},{"s":23.81,"e":23.84}],
 "phone_r": [{"s":0,"e":0.64},{"s":8.9,"e":8.98},{"s":9.11,"e":9.17},{"s":9.58,"e":9.77},{"s":10.09,"e":10.12},{"s":10.22,"e":10.25},{"s":11.97,"e":12.0},{"s":12.35,"e":12.48},{"s":12.56,"e":12.59},{"s":12.63,"e":12.66},{"s":12.71,"e":12.74},{"s":12.9,"e":12.93},{"s":14.57,"e":14.78},{"s":14.94,"e":14.97},{"s":15.02,"e":15.05},{"s":15.18,"e":15.21},{"s":15.3,"e":15.89},{"s":16.77,"e":16.8},{"s":16.93,"e":16.96},{"s":17.05,"e":17.08},{"s":17.25,"e":17.28},{"s":17.37,"e":17.42},{"s":17.48,"e":17.54},{"s":17.6,"e":17.63},{"s":17.68,"e":17.75},{"s":17.8,"e":17.83},{"s":17.87,"e":17.9},{"s":18.12,"e":18.15},{"s":18.93,"e":18.96},{"s":19.1,"e":19.13},{"s":19.31,"e":19.53},{"s":19.6,"e":19.63},{"s":19.68,"e":19.71},{"s":19.83,"e":20.39},{"s":21.27,"e":21.36},{"s":21.47,"e":21.5},{"s":21.58,"e":21.64},{"s":22.42,"e":22.49},{"s":22.6,"e":22.63}]
},
"spacing": 41,
"hconcat": [
 {
  "spacing": 1,
  "vconcat": [
   {"title": {"text": ["OS: 19, Phone: Sony/D6503, Sex: male, Age: 25, Day of week: Wed", "Phone Battery State of Charge"], "lineHeight": 14.7}, "width": 693, "height": 63,
    "layer": [
     {"data": {"name": "bat_l"}, "mark": {"type": "area", "color": "#bfbf00", "opacity": 1, "clip": true, "line": {"color": "#000", "strokeWidth": 1.5}},
      "encoding": {"x": {"field": "h", "type": "quantitative", "scale": {"domain": [0, 24], "nice": false, "zero": false}, "axis": null},
                   "y": {"field": "v", "type": "quantitative", "scale": {"domain": [0, 100]}, "axis": null}}},
     {"data": {"name": "ticks"}, "mark": "rule", "encoding": {"x": {"field": "h", "type": "quantitative"}, "y": {"datum": 100, "type": "quantitative"}, "y2": {"datum": 93.7}}},
     {"data": {"name": "ticks"}, "mark": "rule", "encoding": {"x": {"field": "h", "type": "quantitative"}, "y": {"datum": 0, "type": "quantitative"}, "y2": {"datum": 6.3}}}
    ]},
   {"title": "Annotated Sleep", "width": 693, "height": 63,
    "layer": [
     {"data": {"name": "sleep_l"}, "mark": {"type": "rect", "color": "#808080"},
      "encoding": {"x": {"field": "s", "type": "quantitative", "scale": {"domain": [0, 24], "nice": false, "zero": false}, "axis": null}, "x2": {"field": "e"}}},
     {"data": {"name": "ticks"}, "mark": "rule", "encoding": {"x": {"field": "h", "type": "quantitative"}, "y": {"datum": 1, "type": "quantitative", "scale": {"domain": [0, 1]}, "axis": null}, "y2": {"datum": 0.937}}},
     {"data": {"name": "ticks"}, "mark": "rule", "encoding": {"x": {"field": "h", "type": "quantitative"}, "y": {"datum": 0, "type": "quantitative"}, "y2": {"datum": 0.063}}}
    ]},
   {"title": "Raw Wrist Data", "width": 693, "height": 82,
    "layer": [
     {"data": {"name": "raw_l"}, "transform": [{"fold": ["ax", "ay", "az"], "as": ["k", "val"]}], "mark": {"type": "line", "strokeWidth": 1.3, "clip": true},
      "encoding": {"x": {"field": "h", "type": "quantitative", "scale": {"domain": [0, 24], "nice": false, "zero": false}, "axis": null},
                   "y": {"field": "val", "type": "quantitative", "scale": {"domain": [0, 100]}, "axis": null},
                   "color": {"field": "k", "type": "nominal", "scale": {"domain": ["ax", "ay", "az"], "range": ["#0000ff", "#008000", "#ff0000"]}, "legend": null}}},
     {"data": {"name": "ticks"}, "mark": "rule", "encoding": {"x": {"field": "h", "type": "quantitative"}, "y": {"datum": 100, "type": "quantitative"}, "y2": {"datum": 95.1}}},
     {"data": {"name": "ticks"}, "mark": "rule", "encoding": {"x": {"field": "h", "type": "quantitative"}, "y": {"datum": 0, "type": "quantitative"}, "y2": {"datum": 4.9}}}
    ]},
   {"title": "Detected Wrist Motion", "width": 693, "height": 80,
    "layer": [
     {"data": {"name": "wrist_l"}, "mark": {"type": "rect", "color": "#808080"},
      "encoding": {"x": {"field": "s", "type": "quantitative", "scale": {"domain": [0, 24], "nice": false, "zero": false}, "axis": null}, "x2": {"field": "e"},
                   "y": {"datum": 0, "type": "quantitative", "scale": {"domain": [-0.2, 1.2]}, "axis": null}, "y2": {"datum": 1}}},
     {"data": {"name": "ticks"}, "mark": "rule", "encoding": {"x": {"field": "h", "type": "quantitative"}, "y": {"datum": 1.2, "type": "quantitative"}, "y2": {"datum": 1.13}}},
     {"data": {"name": "ticks"}, "mark": "rule", "encoding": {"x": {"field": "h", "type": "quantitative"}, "y": {"datum": -0.2, "type": "quantitative"}, "y2": {"datum": -0.13}}}
    ]},
   {"title": "Detected Mobile Phone Motion", "width": 693, "height": 80,
    "layer": [
     {"data": {"name": "phone_l"}, "mark": {"type": "rect", "color": "#808080"},
      "encoding": {"x": {"field": "s", "type": "quantitative", "scale": {"domain": [0, 24], "nice": false, "zero": false}, "axis": {"values": [3,6,9,12,15,18,21], "labels": true, "labelExpr": "(datum.value < 10 ? '0' : '') + datum.value + ':00'", "title": null}}, "x2": {"field": "e"},
                   "y": {"datum": 0, "type": "quantitative", "scale": {"domain": [-0.2, 1.2]}, "axis": null}, "y2": {"datum": 1}}},
     {"data": {"name": "ticks"}, "mark": "rule", "encoding": {"x": {"field": "h", "type": "quantitative"}, "y": {"datum": 1.2, "type": "quantitative"}, "y2": {"datum": 1.13}}}
    ]}
  ]
 },
 {
  "spacing": 1,
  "vconcat": [
   {"title": {"text": ["OS: 19, Phone: HTC/HTC One, Sex: male, Age: 34, Day of week: Sat", "Phone Battery State of Charge"], "lineHeight": 14.7}, "width": 692, "height": 63,
    "layer": [
     {"data": {"name": "bat_r"}, "mark": {"type": "area", "color": "#bfbf00", "opacity": 1, "clip": true, "line": {"color": "#000", "strokeWidth": 1.5}},
      "encoding": {"x": {"field": "h", "type": "quantitative", "scale": {"domain": [0, 24], "nice": false, "zero": false}, "axis": null},
                   "y": {"field": "v", "type": "quantitative", "scale": {"domain": [0, 100]}, "axis": null}}},
     {"data": {"name": "ticks"}, "mark": "rule", "encoding": {"x": {"field": "h", "type": "quantitative"}, "y": {"datum": 100, "type": "quantitative"}, "y2": {"datum": 93.7}}},
     {"data": {"name": "ticks"}, "mark": "rule", "encoding": {"x": {"field": "h", "type": "quantitative"}, "y": {"datum": 0, "type": "quantitative"}, "y2": {"datum": 6.3}}}
    ]},
   {"title": "Annotated Sleep", "width": 692, "height": 63,
    "layer": [
     {"data": {"name": "sleep_r"}, "mark": {"type": "rect", "color": "#808080"},
      "encoding": {"x": {"field": "s", "type": "quantitative", "scale": {"domain": [0, 24], "nice": false, "zero": false}, "axis": null}, "x2": {"field": "e"}}},
     {"data": {"name": "ticks"}, "mark": "rule", "encoding": {"x": {"field": "h", "type": "quantitative"}, "y": {"datum": 1, "type": "quantitative", "scale": {"domain": [0, 1]}, "axis": null}, "y2": {"datum": 0.937}}},
     {"data": {"name": "ticks"}, "mark": "rule", "encoding": {"x": {"field": "h", "type": "quantitative"}, "y": {"datum": 0, "type": "quantitative"}, "y2": {"datum": 0.063}}}
    ]},
   {"title": "Raw Wrist Data", "width": 692, "height": 82,
    "layer": [
     {"data": {"name": "raw_r"}, "transform": [{"fold": ["ax", "ay", "az"], "as": ["k", "val"]}], "mark": {"type": "line", "strokeWidth": 1.3, "clip": true},
      "encoding": {"x": {"field": "h", "type": "quantitative", "scale": {"domain": [0, 24], "nice": false, "zero": false}, "axis": null},
                   "y": {"field": "val", "type": "quantitative", "scale": {"domain": [0, 100]}, "axis": null},
                   "color": {"field": "k", "type": "nominal", "scale": {"domain": ["ax", "ay", "az"], "range": ["#0000ff", "#008000", "#ff0000"]}, "legend": null}}},
     {"data": {"name": "ticks"}, "mark": "rule", "encoding": {"x": {"field": "h", "type": "quantitative"}, "y": {"datum": 100, "type": "quantitative"}, "y2": {"datum": 95.1}}},
     {"data": {"name": "ticks"}, "mark": "rule", "encoding": {"x": {"field": "h", "type": "quantitative"}, "y": {"datum": 0, "type": "quantitative"}, "y2": {"datum": 4.9}}}
    ]},
   {"title": "Detected Wrist Motion", "width": 692, "height": 80,
    "layer": [
     {"data": {"name": "wrist_r"}, "mark": {"type": "rect", "color": "#808080"},
      "encoding": {"x": {"field": "s", "type": "quantitative", "scale": {"domain": [0, 24], "nice": false, "zero": false}, "axis": null}, "x2": {"field": "e"},
                   "y": {"datum": 0, "type": "quantitative", "scale": {"domain": [-0.2, 1.2]}, "axis": null}, "y2": {"datum": 1}}},
     {"data": {"name": "ticks"}, "mark": "rule", "encoding": {"x": {"field": "h", "type": "quantitative"}, "y": {"datum": 1.2, "type": "quantitative"}, "y2": {"datum": 1.13}}},
     {"data": {"name": "ticks"}, "mark": "rule", "encoding": {"x": {"field": "h", "type": "quantitative"}, "y": {"datum": -0.2, "type": "quantitative"}, "y2": {"datum": -0.13}}}
    ]},
   {"title": "Detected Mobile Phone Motion", "width": 692, "height": 80,
    "layer": [
     {"data": {"name": "phone_r"}, "mark": {"type": "rect", "color": "#808080"},
      "encoding": {"x": {"field": "s", "type": "quantitative", "scale": {"domain": [0, 24], "nice": false, "zero": false}, "axis": {"values": [3,6,9,12,15,18,21], "labels": true, "labelExpr": "(datum.value < 10 ? '0' : '') + datum.value + ':00'", "title": null}}, "x2": {"field": "e"},
                   "y": {"datum": 0, "type": "quantitative", "scale": {"domain": [-0.2, 1.2]}, "axis": null}, "y2": {"datum": 1}}},
     {"data": {"name": "ticks"}, "mark": "rule", "encoding": {"x": {"field": "h", "type": "quantitative"}, "y": {"datum": 1.2, "type": "quantitative"}, "y2": {"datum": 1.13}}}
    ]}
  ]
 }
]
}
